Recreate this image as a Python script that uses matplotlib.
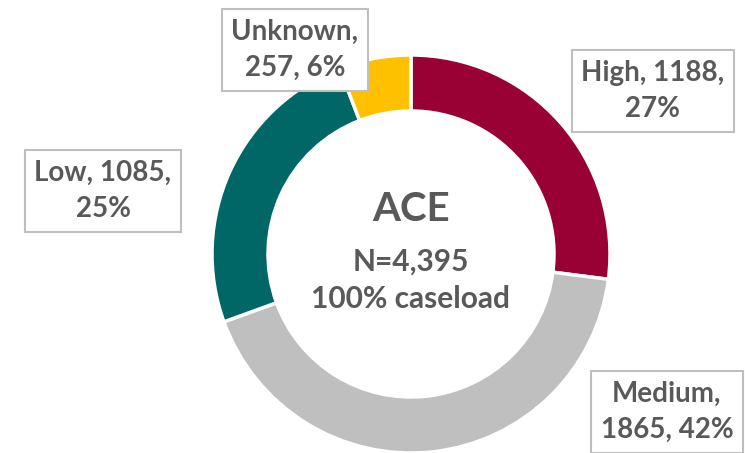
import matplotlib
matplotlib.use("Agg")
import matplotlib.pyplot as plt

# datos del grafico
categorias = ["High", "Medium", "Low", "Unknown"]
casos = [1188, 1865, 1085, 257]
porcentajes = [27, 42, 25, 6]
colores = ["#990033", "#BFBFBF", "#006666", "#FFC000"]

# posiciones de las etiquetas (pixeles, centro de la caja)
pos_etiquetas = [(653, 91), (667, 412), (103, 191), (295, 50)]
etiquetas = ["High, 1188,\n27%", "Medium,\n1865, 42%", "Low, 1085,\n25%", "Unknown,\n257, 6%"]

gris = "#595959"
plt.rcParams['font.family'] = ['Lato', 'DejaVu Sans']

W, H = 745, 453
fig = plt.figure(figsize=(W / 100, H / 100), dpi=100)

cx, cy, r = 411, 254, 200
ax = fig.add_axes([(cx - r) / W, (H - cy - r) / H, 2 * r / W, 2 * r / H])
ax.pie(casos, colors=colores, startangle=90, counterclock=False, radius=0.995,
       wedgeprops=dict(width=0.28, edgecolor="white", linewidth=2.5))
ax.set_xlim(-1, 1)
ax.set_ylim(-1, 1)
ax.set_aspect("equal")
ax.axis("off")

# texto central
fig.text(cx / W, 1 - 210 / H, "ACE", ha="center", va="center", fontsize=29,
         fontweight="bold", color=gris)
fig.text(cx / W, 1 - 262 / H, "N=4,395", ha="center", va="center", fontsize=21.5,
         fontweight="bold", color=gris)
fig.text(cx / W, 1 - 299 / H, "100% caseload", ha="center", va="center", fontsize=21.5,
         fontweight="bold", color=gris)

# cajas de etiquetas
for (px, py), txt in zip(pos_etiquetas, etiquetas):
    fig.text(px / W, 1 - py / H, txt, ha="center", va="center", fontsize=20,
             fontweight="bold", color=gris, linespacing=1.5, multialignment="center",
             bbox=dict(boxstyle="square,pad=0.35", facecolor="white",
                       edgecolor="#BFBFBF", linewidth=1.5))

fig.savefig("out.png", dpi=100, facecolor="white")
